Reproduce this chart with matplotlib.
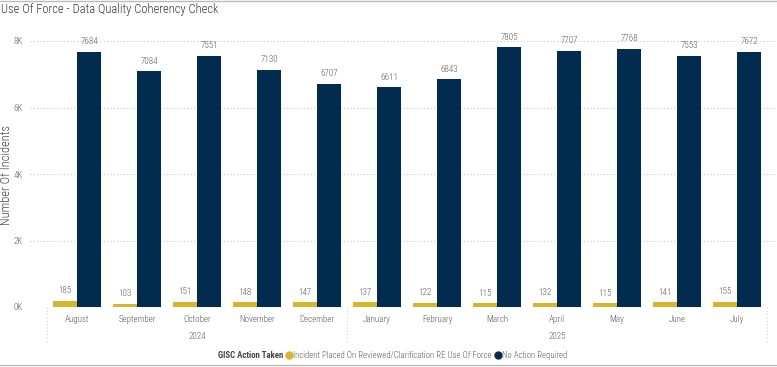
import matplotlib.pyplot as plt
import matplotlib.lines as mlines

months = ["August", "September", "October", "November", "December", "January",
          "February", "March", "April", "May", "June", "July"]
years = ["2024", "2025"]
placed = [185, 103, 151, 148, 147, 137, 122, 115, 132, 115, 141, 155]
no_action = [7684, 7084, 7551, 7130, 6707, 6611, 6843, 7805, 7707, 7768, 7553, 7672]
yticks = [0, 2000, 4000, 6000, 8000]
ytick_labels = ["0K", "2K", "4K", "6K", "8K"]

plt.rcParams['font.family'] = ['Roboto Condensed', 'DejaVu Sans']
plt.rcParams['font.weight'] = 'light'

yellow = "#D8B52A"
navy = "#012B4F"
txt = "#5A5A5A"

W, H = 777, 367
fig = plt.figure(figsize=(W / 100, H / 100), dpi=100)


def fx(px):
    return px / W


def fy(py):
    return 1 - py / H


# plot area
ax = fig.add_axes([fx(30), fy(307), fx(775) - fx(30), fy(41) - fy(307)])
ax.set_xlim(-0.5 - 17 / 60, 11.5 + 8 / 60)
ax.set_ylim(0, 8000)

x = list(range(len(months)))
w = 0.4
b1 = ax.bar([i - w / 2 for i in x], placed, width=w, color=yellow, zorder=3)
b2 = ax.bar([i + w / 2 for i in x], no_action, width=w, color=navy, zorder=3)

for bars, vals in ((b1, placed), (b2, no_action)):
    for r, v in zip(bars, vals):
        ax.annotate(str(v), (r.get_x() + r.get_width() / 2, v), xytext=(0, 4),
                    textcoords="offset points", ha="center", va="bottom",
                    fontsize=6.5, color=txt, clip_on=False)

for s in ax.spines.values():
    s.set_visible(False)
ax.set_yticks(yticks)
ax.set_yticklabels(ytick_labels, fontsize=6.5, color=txt)
ax.grid(axis="y", color="#C8C8C8", linestyle=(0, (1, 2)), linewidth=0.8, zorder=0)
ax.tick_params(axis="y", length=0, pad=5)
ax.set_xticks(x)
ax.set_xticklabels(months, fontsize=6.5, color=txt)
ax.tick_params(axis="x", length=0, pad=6)

fig.text(fx(7), fy(175), "Number Of Incidents", rotation=90, fontsize=9,
         color="#444444", ha="center", va="center")

# year labels and separators
trans = ax.get_xaxis_transform()
ax.text(2, -0.095, years[0], transform=trans, ha="center", va="top", fontsize=6.5, color=txt)
ax.text(8, -0.095, years[1], transform=trans, ha="center", va="top", fontsize=6.5, color=txt)
for xs in (-0.5, 4.5, 11.5):
    ax.plot([xs, xs], [0, -0.13], transform=trans, color="#D0D0D0",
            linestyle=(0, (1, 2)), linewidth=0.8, clip_on=False)

# title
fig.text(fx(1), fy(10), "Use Of Force - Data Quality Coherency Check",
         fontsize=9, color="#3A3A3A", ha="left", va="center")

# legend, laid out left to right
ly = fy(355)
r = fig.canvas.get_renderer()
t = fig.text(fx(218), ly, "GISC Action Taken", fontsize=6.3, fontweight="bold",
             color="#444444", ha="left", va="center")
pos = t.get_window_extent(r).x1 + 6
for col, label in ((yellow, "Incident Placed On Reviewed/Clarification RE Use Of Force"),
                   (navy, "No Action Required")):
    fig.add_artist(mlines.Line2D([pos / W], [ly], marker="o", markersize=5,
                                 color=col, linestyle="none"))
    t = fig.text((pos + 4) / W, ly, label, fontsize=6.3, color=txt,
                 ha="left", va="center")
    pos = t.get_window_extent(r).x1 + 6

# frame lines
fig.add_artist(mlines.Line2D([0, 1], [fy(1), fy(1)], color="#BBBBBB", linewidth=1))
fig.add_artist(mlines.Line2D([0, 1], [fy(365), fy(365)], color="#BBBBBB", linewidth=1))

fig.savefig("out.png", dpi=100)
